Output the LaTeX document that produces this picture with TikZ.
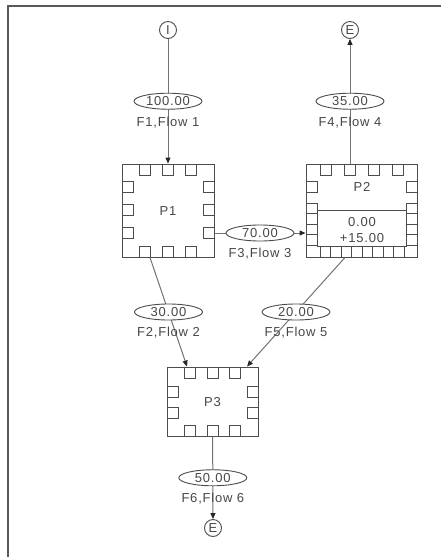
\documentclass[tikz,border=0pt]{standalone}
\usepackage{fontspec}
\setmainfont{Liberation Sans}[LetterSpace=6]
\usetikzlibrary{calc,arrows.meta,shapes.geometric}
\begin{document}
\begin{tikzpicture}[x=1pt,y=-1pt,
 txt/.style={font=\fontsize{13}{14}\selectfont, text=black!72},
 proc/.style={rectangle, draw=black!70, line width=1pt, fill=white, inner sep=0pt},
 term/.style={circle, draw=black!70, line width=0.9pt, minimum size=17pt, inner sep=0pt, fill=white, txt},
 flowval/.style={ellipse, draw=black!70, line width=0.9pt, fill=white, minimum width=68pt, minimum height=16pt, inner sep=0pt, txt},
 flowlab/.style={txt, yshift=-21pt},
 conn/.style={draw=black!55, line width=1pt},
 arr/.style={-{Triangle[length=6pt,width=5pt,color=black!85]}},
 port/.style={draw=black!70, line width=0.9pt}
]
\useasboundingbox (0,0) rectangle (441,557);
\fill[white] (0,0) rectangle (441,557);
% frame
\draw[draw=black!65, line width=2pt] (8,557) -- (8,6) -- (441,6);

% terminals
\node[term] (I) at (168,30) {I};
\node[term] (E1) at (350,30) {E};
\node[term] (E3) at (213,528) {E};

% process boxes
\node[proc, minimum width=92pt, minimum height=93pt] (P1) at (168,210.5) {};
\node[proc, minimum width=111pt, minimum height=93pt] (P2) at (361.5,210.5) {};
\node[proc, minimum width=91pt, minimum height=69pt] (P3) at (212.5,401.5) {};

% P1 ports
\foreach \x in {145,168,191}{
  \draw[port] (\x-5.5,164) rectangle (\x+5.5,175);
  \draw[port] (\x-5.5,246) rectangle (\x+5.5,257);
}
\foreach \y in {187,210,233}{
  \draw[port] (122,\y-5.5) rectangle (133,\y+5.5);
  \draw[port] (203,\y-5.5) rectangle (214,\y+5.5);
}
% P2 ports
\foreach \x in {326,350,374,398}{
  \draw[port] (\x-5.5,164) rectangle (\x+5.5,175);
}
\draw[port] (306,181.5) rectangle (317,192.5);
\draw[port] (406,181.5) rectangle (417,192.5);
\foreach \k in {0,1,2,3}{
  \draw[port] (306,203+10.5*\k) rectangle (317,213.5+10.5*\k);
  \draw[port] (406,203+10.5*\k) rectangle (417,213.5+10.5*\k);
}
\foreach \k in {0,...,7}{
  \draw[port] (320+10.5*\k,246) rectangle (330.5+10.5*\k,257);
}
\draw[port] (317,210) rectangle (406,246);
% P3 ports
\foreach \x in {190,212.5,235}{
  \draw[port] (\x-5.5,367) rectangle (\x+5.5,378);
  \draw[port] (\x-5.5,425) rectangle (\x+5.5,436);
}
\foreach \y in {392,413}{
  \draw[port] (167,\y-5.5) rectangle (178,\y+5.5);
  \draw[port] (247,\y-5.5) rectangle (258,\y+5.5);
}

% box texts
\node[txt] (t1) at (168,211) {P1};
\node[txt] (t2) at (362,187) {P2};
\node[txt] (t2a) at (362,222) {0.00};
\node[txt] (t2b) at (362,238) {+15.00};
\node[txt] (t3) at (212.5,402) {P3};

% connectors
\draw[conn,arr] (I) -- node[flowval] (v1) {100.00} node[flowlab] (l1) {F1,Flow 1} (P1);
\draw[conn,arr] ($(P2.north)+(-11.5,0)$) -- node[flowval] (v4) {35.00} node[flowlab] (l4) {F4,Flow 4} (E1);
\draw[conn,arr] ($(P1.east)+(0,22.5)$) -- node[flowval] (v3) {70.00} node[flowlab] (l3) {F3,Flow 3} ($(P2.west)+(0,22.5)$);
\draw[conn,arr] ($(P1.south)+(-18,0)$) -- node[flowval] (v2) {30.00} node[flowlab] (l2) {F2,Flow 2} ($(P3.north)+(-25.5,0)$);
\draw[conn,arr] ($(P2.south)+(-16.5,0)$) -- node[flowval] (v5) {20.00} node[flowlab] (l5) {F5,Flow 5} ($(P3.north)+(34.5,0)$);
\draw[conn,arr] (P3) -- node[flowval] (v6) {50.00} node[flowlab] (l6) {F6,Flow 6} (E3);
\end{tikzpicture}
\end{document}
